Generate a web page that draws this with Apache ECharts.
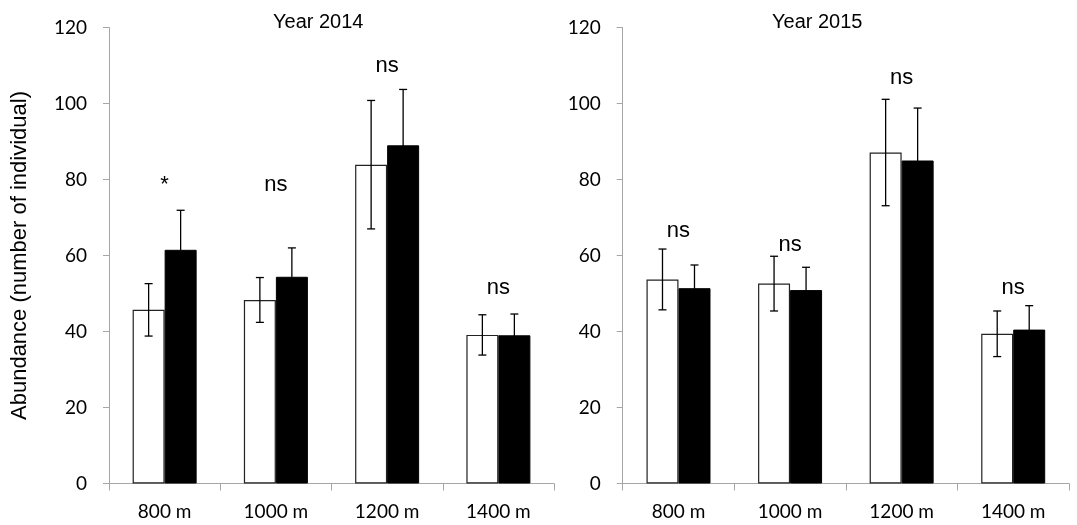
<!DOCTYPE html>
<html>
<head>
<meta charset="utf-8">
<script src="https://cdn.jsdelivr.net/npm/echarts@6/dist/echarts.min.js"></script>
<style>
html,body{margin:0;padding:0;background:#fff;}
#chart{width:1077px;height:525px;}
</style>
</head>
<body>
<div id="chart"></div>
<script>
// ---- data ----
var categories = ['800 m', '1000 m', '1200 m', '1400 m'];
var yTicks = [0, 20, 40, 60, 80, 100, 120];

var mean2014Open = [45.7, 48.3, 83.9, 39.1];
var se2014Open   = [6.9, 5.9, 16.9, 5.3];
var mean2014Fill = [61.5, 54.4, 89.0, 39.0];
var se2014Fill   = [10.4, 7.6, 14.7, 5.6];

var mean2015Open = [53.7, 52.6, 87.1, 39.4];
var se2015Open   = [8.0, 7.2, 14.0, 6.0];
var mean2015Fill = [51.4, 50.9, 85.0, 40.5];
var se2015Fill   = [6.1, 6.0, 13.8, 6.3];

var sig2014 = ['*', 'ns', 'ns', 'ns'];
var sigY2014 = [78.5, 78.5, 110, 51.5];
var sig2015 = ['ns', 'ns', 'ns', 'ns'];
var sigY2015 = [66.5, 62.8, 106.6, 51.5];

var titles = ['Year 2014', 'Year 2015'];
var yAxisTitle = 'Abundance (number of individual)';

// ---- chart ----
var BAR_W = 32;
var tickFont = { fontFamily: 'Lato', fontSize: 19, color: '#000' };
var axisGray = '#a6a6a6';

function errSeries(gridIdx, means, ses, side) {
  return {
    type: 'custom',
    xAxisIndex: gridIdx, yAxisIndex: gridIdx,
    z: 5,
    encode: { x: 0, y: 1 },
    data: means.map(function (m, i) { return [i, m, ses[i]]; }),
    renderItem: function (params, api) {
      var i = api.value(0), m = api.value(1), s = api.value(2);
      var hi = api.coord([i, m + s]);
      var lo = api.coord([i, m - s]);
      var x = hi[0] + side * BAR_W / 2;
      var cap = 4;
      var st = { stroke: '#000', lineWidth: 1.3 };
      return {
        type: 'group',
        children: [
          { type: 'line', shape: { x1: x, y1: hi[1], x2: x, y2: lo[1] }, style: st },
          { type: 'line', shape: { x1: x - cap, y1: hi[1], x2: x + cap, y2: hi[1] }, style: st },
          { type: 'line', shape: { x1: x - cap, y1: lo[1], x2: x + cap, y2: lo[1] }, style: st }
        ]
      };
    }
  };
}

function sigSeries(gridIdx, labels, ys) {
  return {
    type: 'custom',
    xAxisIndex: gridIdx, yAxisIndex: gridIdx,
    silent: true,
    z: 6,
    encode: { x: 0, y: 1 },
    data: labels.map(function (t, i) { return [i, ys[i]]; }),
    renderItem: function (params, api) {
      var p = api.coord([api.value(0), api.value(1)]);
      return {
        type: 'text',
        x: p[0], y: p[1],
        style: {
          text: labels[params.dataIndex],
          fontFamily: 'Liberation Sans', fontSize: 22, fill: '#000',
          align: 'center', verticalAlign: 'middle'
        }
      };
    }
  };
}

function xAxisCfg(gridIdx) {
  return {
    type: 'category', gridIndex: gridIdx, data: categories,
    axisLine: { show: true, lineStyle: { color: axisGray, width: 1 } },
    axisTick: { show: true, length: 7, lineStyle: { color: axisGray } },
    axisLabel: Object.assign({ margin: 19 }, tickFont),
    splitLine: { show: false }
  };
}

function yAxisCfg(gridIdx, withName) {
  var cfg = {
    type: 'value', gridIndex: gridIdx, min: 0, max: 120, interval: 20,
    axisLine: { show: true, lineStyle: { color: axisGray, width: 1 } },
    axisTick: { show: true, length: 6, lineStyle: { color: axisGray } },
    axisLabel: Object.assign({ margin: 22, formatter: function (v) { return yTicks.indexOf(v) >= 0 ? String(v) : ''; } }, tickFont),
    splitLine: { show: false }
  };
  if (withName) {
    cfg.name = yAxisTitle;
    cfg.nameLocation = 'middle';
    cfg.nameGap = 78;
    cfg.nameRotate = 90;
    cfg.nameTextStyle = { fontFamily: 'Liberation Sans', fontSize: 22, color: '#000' };
  }
  return cfg;
}

function barPair(gridIdx, openVals, fillVals) {
  return [
    {
      type: 'bar', xAxisIndex: gridIdx, yAxisIndex: gridIdx,
      data: openVals, barWidth: BAR_W, barGap: '0%',
      itemStyle: { color: '#fff', borderColor: '#222', borderWidth: 1.2 }
    },
    {
      type: 'bar', xAxisIndex: gridIdx, yAxisIndex: gridIdx,
      data: fillVals, barWidth: BAR_W, barGap: '0%',
      itemStyle: { color: '#000', borderColor: '#000', borderWidth: 1 }
    }
  ];
}

var chart = echarts.init(document.getElementById('chart'), null, { renderer: 'canvas' });
chart.setOption({
  backgroundColor: '#fff',
  animation: false,
  title: [
    { text: titles[0], left: 268, top: 7, textStyle: { fontFamily: 'Liberation Sans', fontSize: 20, fontWeight: 'normal', color: '#000' } },
    { text: titles[1], left: 767, top: 7, textStyle: { fontFamily: 'Liberation Sans', fontSize: 20, fontWeight: 'normal', color: '#000' } }
  ],
  grid: [
    { left: 109, top: 27.5, width: 445, height: 456, outerBoundsMode: 'none', containLabel: false },
    { left: 622.7, top: 27.5, width: 446.3, height: 456, outerBoundsMode: 'none', containLabel: false }
  ],
  xAxis: [xAxisCfg(0), xAxisCfg(1)],
  yAxis: [yAxisCfg(0, true), yAxisCfg(1, false)],
  series: []
    .concat(barPair(0, mean2014Open, mean2014Fill))
    .concat(barPair(1, mean2015Open, mean2015Fill))
    .concat([
      errSeries(0, mean2014Open, se2014Open, -1),
      errSeries(0, mean2014Fill, se2014Fill, 1),
      errSeries(1, mean2015Open, se2015Open, -1),
      errSeries(1, mean2015Fill, se2015Fill, 1),
      sigSeries(0, sig2014, sigY2014),
      sigSeries(1, sig2015, sigY2015)
    ])
});
</script>
</body>
</html>
